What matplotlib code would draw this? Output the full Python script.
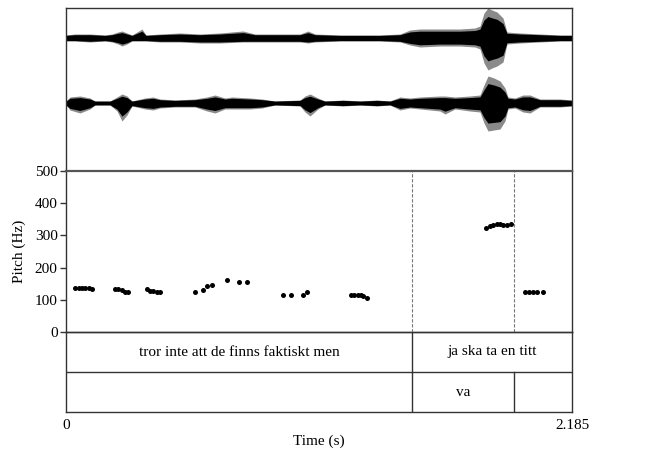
import numpy as np
import matplotlib
matplotlib.use("Agg")
import matplotlib.pyplot as plt

plt.rcParams['font.family'] = ['Liberation Serif', 'DejaVu Serif']
plt.rcParams['font.size'] = 11

t_end = 2.185
px2s = t_end / 506.0  # pixel columns to seconds (picture readout)

# waveform envelopes: x pixel, upper, lower (px)
ch1_x = [66, 75, 90, 105, 112, 118, 122, 127, 132, 142, 146, 160, 180, 200, 220,
         243, 255, 280, 300, 308, 315, 340, 360, 380, 400, 410, 420, 440, 460,
         475, 480, 484, 488, 492, 497, 503, 507, 520, 540, 560, 572]
ch1_up = [3, 4, 4, 3, 4, 6, 7, 5, 3, 9, 3, 4, 5, 4, 5,
          7, 4, 4, 4, 7, 4, 3, 3, 3, 4, 8, 9, 9, 9,
          10, 12, 25, 30, 28, 26, 20, 6, 5, 4, 3, 3]
ch1_dn = [3, 3, 4, 3, 4, 6, 8, 6, 3, 3, 3, 4, 4, 5, 5,
          4, 4, 4, 4, 5, 4, 3, 3, 3, 4, 7, 9, 8, 8,
          9, 11, 25, 32, 30, 28, 24, 6, 5, 4, 3, 3]

ch2_x = [66, 70, 80, 90, 95, 110, 117, 122, 127, 132, 145, 153, 160, 175, 195,
         207, 215, 225, 232, 250, 262, 275, 300, 305, 310, 318, 325, 343, 360,
         377, 390, 400, 410, 420, 440, 445, 455, 470, 480, 484, 488, 494, 500,
         505, 508, 515, 523, 530, 540, 560, 572]
ch2_up = [2, 6, 7, 5, 2, 2, 6, 9, 7, 2, 5, 6, 4, 3, 4,
          6, 8, 5, 6, 5, 4, 2, 3, 7, 9, 5, 2, 3, 2,
          3, 2, 6, 5, 6, 7, 7, 6, 7, 8, 18, 27, 25, 22,
          15, 6, 5, 8, 8, 4, 4, 3]
ch2_dn = [2, 7, 10, 6, 2, 2, 8, 18, 12, 3, 6, 7, 5, 4, 4,
          8, 10, 6, 6, 6, 5, 2, 3, 9, 13, 6, 2, 3, 2,
          3, 2, 7, 5, 6, 8, 11, 6, 8, 9, 20, 28, 27, 26,
          18, 6, 5, 9, 10, 4, 4, 3]

# pitch points (s, Hz)
pitch_t = [0.039, 0.054, 0.069, 0.084, 0.099, 0.112,
           0.212, 0.225, 0.242, 0.255, 0.268,
           0.350, 0.363, 0.376, 0.393, 0.406,
           0.557, 0.592, 0.609, 0.630,
           0.695, 0.747, 0.782,
           0.937, 0.972, 1.023, 1.041,
           1.231, 1.244, 1.261, 1.274, 1.282, 1.300,
           1.814, 1.831, 1.844, 1.861, 1.874, 1.887, 1.904, 1.922,
           1.982, 1.999, 2.017, 2.034, 2.060]
pitch_hz = [137, 137, 137, 137, 137, 134,
            133, 133, 130, 125, 123,
            134, 128, 126, 125, 124,
            123, 130, 143, 146,
            161, 156, 156,
            114, 115, 116, 124,
            116, 116, 115, 114, 112, 105,
            322, 330, 333, 334, 334, 333, 331, 334,
            125, 125, 125, 125, 125]

# text grid
bounds = [1.494, 1.934]
tier1 = [(0.0, 1.494, "tror inte att de finns faktiskt men"), (1.494, t_end, "ja ska ta en titt")]
tier2 = [(0.0, 1.494, ""), (1.494, 1.934, "va"), (1.934, t_end, "")]

W, H = 664, 455
fig = plt.figure(figsize=(W / 100, H / 100), dpi=100)
L, R = 66, 572
fx = lambda p: p / W
fy = lambda p: 1 - p / H

edge = '#333333'

# waveform
axw = fig.add_axes([fx(L), fy(171), fx(R - L), fy(8) - fy(171)])
axw.set_xlim(0, t_end)
axw.set_ylim(171, 8)
for xs, up, dn, c in [(ch1_x, ch1_up, ch1_dn, 38), (ch2_x, ch2_up, ch2_dn, 103)]:
    tt = (np.array(xs) - L) * px2s
    up = np.array(up, float)
    dn = np.array(dn, float)
    # grey fringe, then dense black core
    axw.fill_between(tt, c - up, c + dn, color='#8a8a8a', lw=0)
    axw.fill_between(tt, c - 0.7 * up - 0.5, c + 0.7 * dn + 0.5, color='#000000', lw=0)
axw.set_xticks([])
axw.set_yticks([])
for s in axw.spines.values():
    s.set_color(edge)
    s.set_linewidth(1.0)
axw.spines['bottom'].set_visible(False)

# tiers
axt = fig.add_axes([fx(L), fy(412), fx(R - L), fy(332) - fy(412)])
axt.patch.set_visible(False)
axt.set_xlim(0, t_end)
axt.set_ylim(0, 2)
axt.axhline(1, color=edge, lw=1.0)
for a, b, lab in tier1:
    if a > 0:
        axt.plot([a, a], [1, 2], color=edge, lw=1.0)
    axt.text((a + b) / 2, 1.5, lab, ha='center', va='center')
for a, b, lab in tier2:
    if a > 0:
        axt.plot([a, a], [0, 1], color=edge, lw=1.0)
    axt.text((a + b) / 2, 0.5, lab, ha='center', va='center')
axt.set_yticks([])
axt.set_xticks([0, t_end], labels=["0", "2.185"])
axt.tick_params(axis='x', length=0, pad=5)
axt.set_xlabel("Time (s)", labelpad=2)
for s in axt.spines.values():
    s.set_color(edge)
    s.set_linewidth(1.0)

# pitch
axp = fig.add_axes([fx(L), fy(332), fx(R - L), fy(171) - fy(332)])
axp.patch.set_visible(False)
axp.set_xlim(0, t_end)
axp.set_ylim(0, 500)
axp.plot(pitch_t, pitch_hz, 'o', color='black', ms=3.6, mec='none')
for b in bounds:
    axp.axvline(b, color='#777777', lw=0.8, ls=(0, (3, 1.5)))
axp.set_yticks([0, 100, 200, 300, 400, 500])
axp.set_xticks([])
axp.tick_params(axis='y', length=4, width=1.0, color=edge, pad=2)
axp.set_ylabel("Pitch (Hz)", labelpad=6)
for s in axp.spines.values():
    s.set_color(edge)
    s.set_linewidth(1.0)
axp.spines['top'].set_linewidth(1.6)
axp.spines['top'].set_color('#555555')

fig.savefig("out.png", dpi=100)
